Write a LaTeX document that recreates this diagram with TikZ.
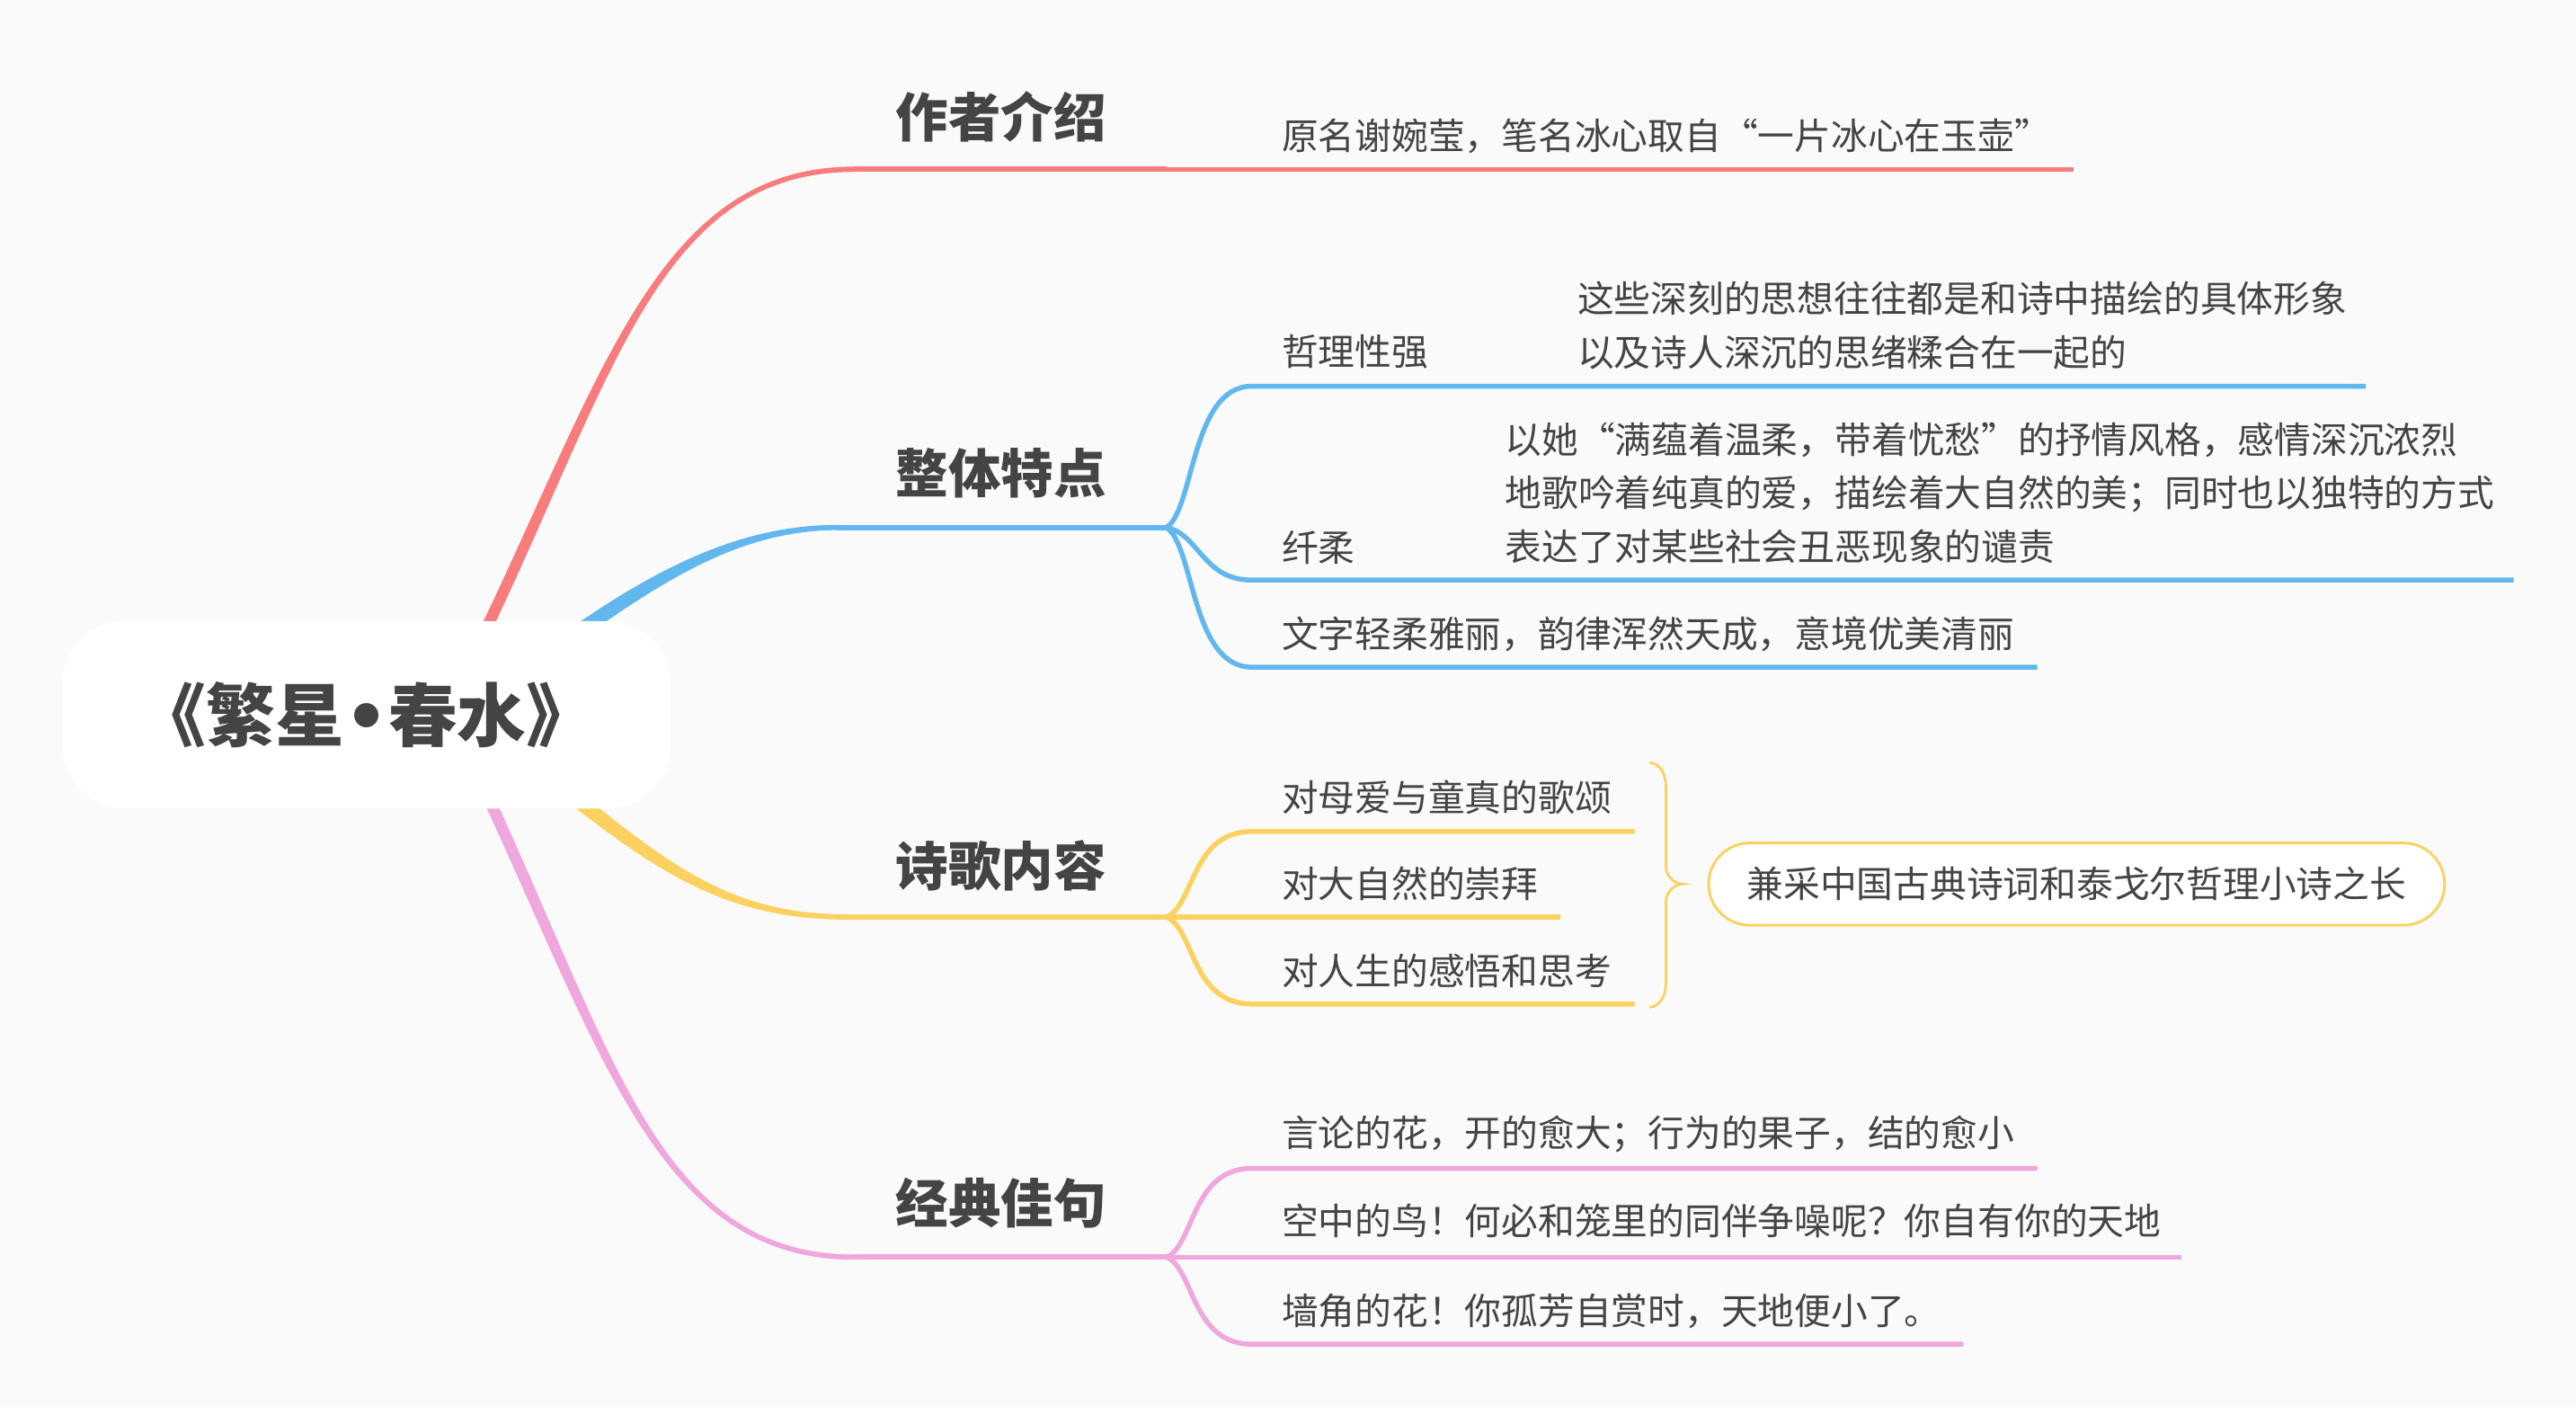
\documentclass[tikz,border=0pt]{standalone}
\usepackage{fontspec}
\setmainfont{Noto Sans CJK SC}
\newfontfamily\symfont{DejaVu Sans}
\usetikzlibrary{calc}
\definecolor{bg}{HTML}{FAFAFA}
\definecolor{cred}{HTML}{F87C7C}
\definecolor{cblue}{HTML}{62B8EE}
\definecolor{cyel}{HTML}{FCD15F}
\definecolor{cpink}{HTML}{F0A7DD}
\definecolor{ink}{HTML}{444444}
\begin{document}
\begin{tikzpicture}[x=1pt,y=-1pt,
  topic/.style={anchor=west,inner sep=0pt,text=ink,font=\fontsize{32}{36}\selectfont\bfseries},
  leaf/.style={anchor=west,inner sep=0pt,text=ink,font=\fontsize{22.3}{32.5}\selectfont,align=left},
  mainln/.style={line width=3.1pt},
  subln/.style={line width=3pt},
  brace/.style={line width=1.5pt},
]
\fill[bg] (0,0) rectangle (1568,856);
\useasboundingbox (0,0) rectangle (1568,856);

% ---------- branch anchor coordinates
\coordinate (rS) at (290,395);  \coordinate (rE) at (520,103);  \coordinate (rF) at (710,103);
\coordinate (bS) at (340,393);  \coordinate (bE) at (510,321);  \coordinate (bF) at (710,321);
\coordinate (yS) at (340,478);  \coordinate (yE) at (515,558);  \coordinate (yF) at (710,558);
\coordinate (pS) at (290,470);  \coordinate (pE) at (520,765);  \coordinate (pF) at (710,765);

% ---------- tapered main curves
\fill[cred] ($(rS)+(-3.1,-1.5)$) .. controls ($(rS)+(76.9,-166.5)$) and ($(rE)+(-120,-1.6)$) .. ($(rE)+(0,-1.6)$)
  -- ($(rE)+(0,1.6)$) .. controls ($(rE)+(-120,1.6)$) and ($(rS)+(83.1,-163.5)$) .. ($(rS)+(3.1,1.5)$) -- cycle;
\fill[cblue] ($(bS)+(-2.6,-3.7)$) .. controls ($(bS)+(57.4,-46.7)$) and ($(bE)+(-60,-1.6)$) .. ($(bE)+(0,-1.6)$)
  -- ($(bE)+(0,1.6)$) .. controls ($(bE)+(-60,1.6)$) and ($(bS)+(62.6,-39.3)$) .. ($(bS)+(2.6,3.7)$) -- cycle;
\fill[cyel] ($(yS)+(-2.8,3.5)$) .. controls ($(yS)+(57.2,50.5)$) and ($(yE)+(-75,1.6)$) .. ($(yE)+(0,1.6)$)
  -- ($(yE)+(0,-1.6)$) .. controls ($(yE)+(-75,-1.6)$) and ($(yS)+(62.8,43.5)$) .. ($(yS)+(2.8,-3.5)$) -- cycle;
\fill[cpink] ($(pS)+(3.2,-1.5)$) .. controls ($(pS)+(83.2,168.5)$) and ($(pE)+(-120,-1.6)$) .. ($(pE)+(0,-1.6)$)
  -- ($(pE)+(0,1.6)$) .. controls ($(pE)+(-120,1.6)$) and ($(pS)+(76.8,171.5)$) .. ($(pS)+(-3.2,1.5)$) -- cycle;

\draw[cred,mainln] (rE) -- (rF);
\draw[cblue,mainln] (bE) -- (bF);
\draw[cyel,mainln] (yE) -- (yF);
\draw[cpink,mainln] (pE) -- (pF);

% ---------- root
\node[fill=white, rounded corners=38pt, minimum width=370pt, minimum height=114pt, inner sep=0pt,
  text=ink, font=\fontsize{42}{46}\selectfont\bfseries] (root) at (223,435) {《繁星{\symfont\bfseries •}春水》};

% ---------- topics
\node[topic] (t1) at (545,71)  {作者介绍};
\node[topic] (t2) at (545,288) {整体特点};
\node[topic] (t3) at (545,527) {诗歌内容};
\node[topic] (t4) at (545,732) {经典佳句};

% ---------- red child
\coordinate (r1e) at (1262,103);
\draw[cred,subln] (rF) -- (r1e);
\node[leaf] (t1a) at (780,83) {原名谢婉莹，笔名冰心取自“一片冰心在玉壶”};

% ---------- blue children
\coordinate (b1) at (762,235); \coordinate (b1e) at (1440,235);
\coordinate (b2) at (762,353); \coordinate (b2e) at (1530,353);
\coordinate (b3) at (762,406); \coordinate (b3e) at (1240,406);
\draw[cblue,subln] (bF) .. controls +(17,-11) and +(-37,0) .. (b1) -- (b1e);
\draw[cblue,subln] (bF) .. controls +(20,4) and +(-30,0) .. (b2) -- (b2e);
\draw[cblue,subln] (bF) .. controls +(17,11) and +(-37,0) .. (b3) -- (b3e);
\node[leaf] (t2a) at (780,214) {哲理性强};
\node[leaf] (t2a1) at (960,198) {这些深刻的思想往往都是和诗中描绘的具体形象\\以及诗人深沉的思绪糅合在一起的};
\node[leaf] (t2b) at (780,333) {纤柔};
\node[leaf] (t2b1) at (916,300) {以她“满蕴着温柔，带着忧愁”的抒情风格，感情深沉浓烈\\地歌吟着纯真的爱，描绘着大自然的美；同时也以独特的方式\\表达了对某些社会丑恶现象的谴责};
\node[leaf] (t2c) at (780,386) {文字轻柔雅丽，韵律浑然天成，意境优美清丽};

% ---------- yellow children
\coordinate (y1) at (762,506); \coordinate (y1e) at (995,506);
\coordinate (y2e) at (950,558);
\coordinate (y3) at (762,611); \coordinate (y3e) at (995,611);
\draw[cyel,subln] (yF) .. controls +(17,-7) and +(-37,0) .. (y1) -- (y1e);
\draw[cyel,subln] (yF) -- (y2e);
\draw[cyel,subln] (yF) .. controls +(17,7) and +(-37,0) .. (y3) -- (y3e);
\node[leaf] (t3a) at (780,485) {对母爱与童真的歌颂};
\node[leaf] (t3b) at (780,538) {对大自然的崇拜};
\node[leaf] (t3c) at (780,591) {对人生的感悟和思考};

% brace and summary
\coordinate (brT) at (1004,464); \coordinate (brM) at (1024,538); \coordinate (brB) at (1004,613);
\draw[cyel,brace] (brT) .. controls +(7,1) and +(0,-8) .. ($(brT)+(10,15)$) -- ($(brM)+(-10,-11)$)
  .. controls +(0,7) and +(-4,0) .. (brM) .. controls +(-4,0) and +(0,-7) .. ($(brM)+(-10,11)$)
  -- ($(brB)+(10,-15)$) .. controls +(0,8) and +(7,-1) .. (brB);
\node[draw=cyel, line width=1.6pt, fill=white, rounded corners=25pt, minimum width=448pt, minimum height=50pt,
  inner sep=0pt, text=ink, font=\fontsize{22.3}{26}\selectfont] (sum) at (1264,538) {兼采中国古典诗词和泰戈尔哲理小诗之长};

% ---------- pink children
\coordinate (p1) at (762,711); \coordinate (p1e) at (1240,711);
\coordinate (p2e) at (1328,765);
\coordinate (p3) at (762,818); \coordinate (p3e) at (1195,818);
\draw[cpink,subln] (pF) .. controls +(17,-7) and +(-37,0) .. (p1) -- (p1e);
\draw[cpink,subln] (pF) -- (p2e);
\draw[cpink,subln] (pF) .. controls +(17,7) and +(-37,0) .. (p3) -- (p3e);
\node[leaf] (t4a) at (780,690) {言论的花，开的愈大；行为的果子，结的愈小};
\node[leaf] (t4b) at (780,743) {空中的鸟！何必和笼里的同伴争噪呢？你自有你的天地};
\node[leaf] (t4c) at (780,798) {墙角的花！你孤芳自赏时，天地便小了。};
\end{tikzpicture}
\end{document}
